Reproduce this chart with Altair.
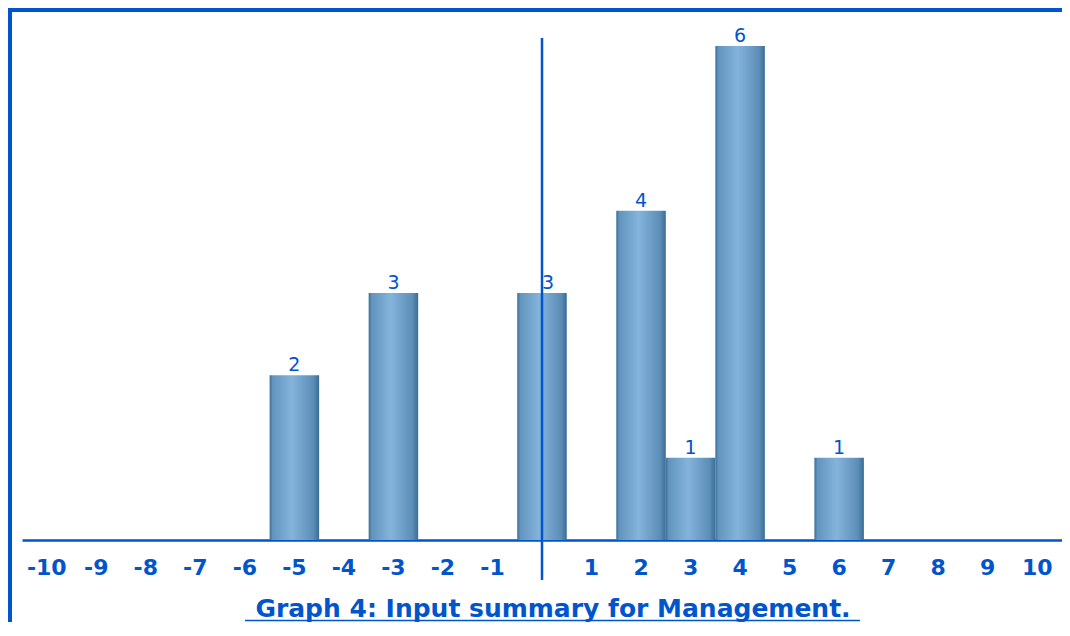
import altair as alt
import pandas as pd

categories = list(range(-10, 11))
bar_cats = [-5, -3, 0, 2, 3, 4, 6]
bar_vals = [2, 3, 3, 4, 1, 6, 1]
title_text = "Graph 4: Input summary for Management."

BLUE = "#0055cc"
FONT = "DejaVu Sans"
W, H = 1040, 494

bars_df = pd.DataFrame({"x": bar_cats, "v": bar_vals})
zero_df = pd.DataFrame({"x": [0]})

xscale = alt.Scale(domain=categories, paddingInner=0, paddingOuter=0)
yscale = alt.Scale(domain=[0, 6], nice=False, zero=True)

grad = alt.LinearGradient(
    gradient="linear",
    x1=0, x2=1, y1=0, y2=0,
    stops=[
        alt.GradientStop(offset=0.0, color="#3a6e97"),
        alt.GradientStop(offset=0.06, color="#6294bd"),
        alt.GradientStop(offset=0.45, color="#84b4dc"),
        alt.GradientStop(offset=0.88, color="#5d8eb7"),
        alt.GradientStop(offset=1.0, color="#3a6e97"),
    ],
)

base = alt.Chart(bars_df)

bars = base.mark_bar(color=grad, width={"band": 1}).encode(
    x=alt.X(
        "x:O",
        scale=xscale,
        sort=categories,
        title=None,
        axis=alt.Axis(
            labelExpr="datum.value == 0 ? '' : datum.label",
            labelAngle=0,
            labelFont=FONT,
            labelFontWeight="bold",
            labelFontSize=22,
            labelColor=BLUE,
            labelPadding=17,
            ticks=False,
            domainColor=BLUE,
            domainWidth=2.5,
            grid=False,
        ),
    ),
    y=alt.Y("v:Q", scale=yscale, axis=None),
)

label_enc = dict(
    x=alt.X("x:O", scale=xscale, sort=categories, bandPosition=0.5),
    y=alt.Y("v:Q", scale=yscale),
    text=alt.Text("v:Q"),
)

labels = base.mark_text(
    font=FONT, fontSize=19, color=BLUE, baseline="alphabetic", dy=-4
).encode(**label_enc).transform_filter("datum.x != 0")

label_zero = base.mark_text(
    font=FONT, fontSize=19, color=BLUE, baseline="alphabetic", dy=-4, dx=6
).encode(**label_enc).transform_filter("datum.x == 0")

vline = alt.Chart(zero_df).mark_rule(color=BLUE, strokeWidth=2.5).encode(
    x=alt.X("x:O", scale=xscale, sort=categories, bandPosition=0.5),
    y=alt.value(-8),
    y2=alt.value(H + 40),
)

frame_top = alt.Chart(zero_df).mark_rule(color=BLUE, strokeWidth=4).encode(
    x=alt.value(-14), x2=alt.value(W + 20), y=alt.value(-36)
)
frame_left = alt.Chart(zero_df).mark_rule(color=BLUE, strokeWidth=4).encode(
    x=alt.value(-12), y=alt.value(-38), y2=alt.value(H + 200)
)

title = alt.Chart(pd.DataFrame({"t": [title_text]})).mark_text(
    font=FONT, fontSize=25, fontWeight="bold", color=BLUE,
    baseline="alphabetic", align="center"
).encode(x=alt.value(531), y=alt.value(H + 77), text="t:N")

underline = alt.Chart(zero_df).mark_rule(color=BLUE, strokeWidth=1.5).encode(
    x=alt.value(223), x2=alt.value(838), y=alt.value(H + 80.5)
)

chart = alt.layer(
    bars, labels, label_zero, vline, frame_top, frame_left, title, underline
).properties(
    width=W,
    height=H,
    autosize=alt.AutoSizeParams(type="none"),
    padding={"left": 14, "top": 38, "right": 0, "bottom": 82},
).configure_view(stroke=None)

chart.save("out.html", embed_options={"renderer": "svg", "actions": False})
